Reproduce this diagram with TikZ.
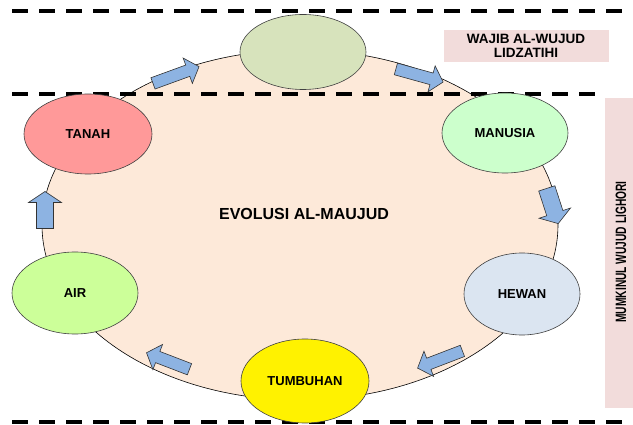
\documentclass[tikz,border=0pt]{standalone}
\usepackage{fontspec}
\setmainfont{Liberation Sans}
\usetikzlibrary{shapes.geometric}
\definecolor{bigfill}{RGB}{253,233,217}
\definecolor{topfill}{RGB}{215,227,188}
\definecolor{tanahfill}{RGB}{255,153,153}
\definecolor{manusiafill}{RGB}{204,255,204}
\definecolor{airfill}{RGB}{204,255,153}
\definecolor{hewanfill}{RGB}{219,229,241}
\definecolor{arrowfill}{RGB}{141,179,226}
\definecolor{labelfill}{RGB}{242,220,219}
\tikzset{
  orb/.style={ellipse, draw=black!75, line width=0.6pt, inner sep=0pt, font=\bfseries\fontsize{13}{15}\selectfont},
  sepline/.style={line width=3.2pt, dash pattern=on 16pt off 11pt},
  pics/blockarr/.style n args={4}{code={
    % #1 length, #2 shaft width, #3 head width, #4 head length
    \draw[draw=black!80, line width=0.6pt, fill=arrowfill, line join=miter]
      (-#1/2,-#2/2) -- (#1/2-#4,-#2/2) -- (#1/2-#4,-#3/2) -- (#1/2,0)
      -- (#1/2-#4,#3/2) -- (#1/2-#4,#2/2) -- (-#1/2,#2/2) -- cycle;
  }},
}
\begin{document}
\begin{tikzpicture}[x=1pt,y=-1pt]
\useasboundingbox (0,0) rectangle (633,425);
% big ellipse
\node[ellipse, draw=black, line width=0.6pt, fill=bigfill, minimum width=516pt, minimum height=350pt, inner sep=0pt] (big) at (300,225) {};
\node[font=\bfseries\fontsize{16}{18}\selectfont] (title) at (304,214) {EVOLUSI AL-MAUJUD};
% separators
\coordinate (l1a) at (12,11); \coordinate (l1b) at (628,11);
\coordinate (l2a) at (12,94); \coordinate (l2b) at (604,94);
\coordinate (l3a) at (12,422); \coordinate (l3b) at (628,422);
\draw[sepline] (l1a) -- (l1b);
\draw[sepline] (l2a) -- (l2b);
\draw[sepline] (l3a) -- (l3b);
% labels
\node[fill=labelfill, minimum width=165pt, minimum height=32pt, inner sep=0pt, align=center, font=\bfseries\fontsize{13.5}{14}\selectfont] (wajib) at (526,46) {WAJIB AL-WUJUD\\LIDZATIHI};
\node[fill=labelfill, minimum width=28pt, minimum height=310pt, inner sep=0pt] (mumbox) at (619,253) {};
\node[rotate=90, font=\bfseries\fontsize{15}{15}\selectfont, inner sep=0pt] (mum) at (621,252) {\scalebox{0.68}[1]{MUMKINUL WUJUD LIGHORI}};
% small ellipses
\node[orb, fill=topfill, minimum width=126pt, minimum height=75pt] (top) at (303,52) {};
\node[orb, fill=tanahfill, minimum width=128pt, minimum height=80pt] (tanah) at (88,134) {TANAH};
\node[orb, fill=manusiafill, minimum width=126pt, minimum height=80pt] (manusia) at (505,133) {MANUSIA};
\node[orb, fill=airfill, minimum width=126pt, minimum height=82pt] (air) at (75,293) {AIR};
\node[orb, fill=hewanfill, minimum width=116pt, minimum height=82pt] (hewan) at (522,294) {HEWAN};
\node[orb, fill=yellow, minimum width=128pt, minimum height=84pt] (tumbuhan) at (305,381) {TUMBUHAN};
% arrows
\pic[rotate=20] (a1) at (176,75) {blockarr={49}{12}{27}{12}};
\pic[rotate=-15.5] (a2) at (419.5,75.5) {blockarr={49}{12}{27}{12}};
\pic[rotate=-72] (a3) at (552.5,206) {blockarr={37}{17}{33}{11}};
\pic[rotate=201] (a4) at (440,359.5) {blockarr={48}{12}{27}{12}};
\pic[rotate=159] (a5) at (168,361) {blockarr={46}{12}{27}{12}};
\pic[rotate=90] (a6) at (45,210) {blockarr={37}{17}{33}{11}};
\end{tikzpicture}
\end{document}
